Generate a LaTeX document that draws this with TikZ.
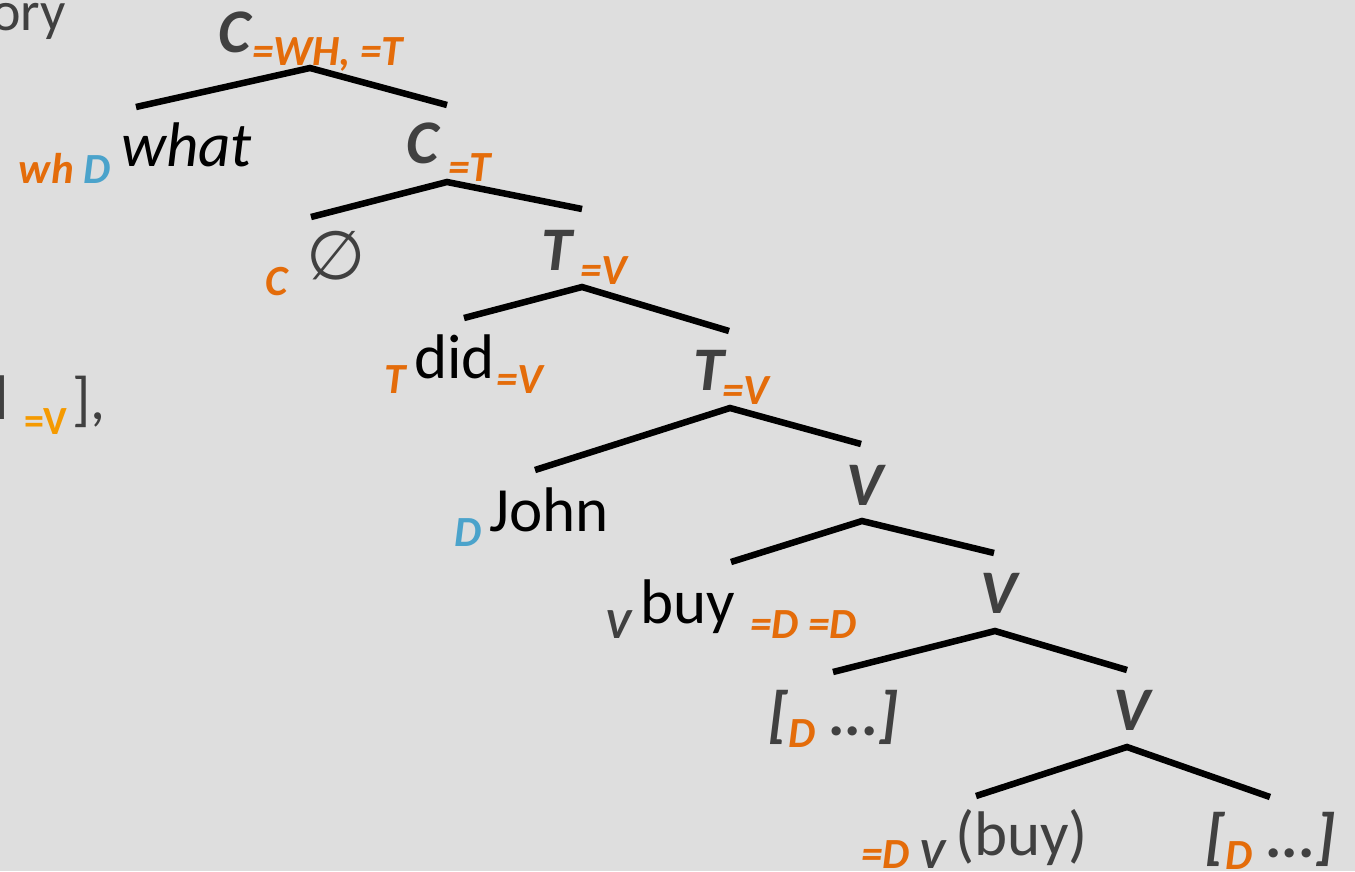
\documentclass[tikz,border=0pt]{standalone}
\usepackage{fontspec}
\setmainfont{Carlito}
\newfontfamily\symfont{DejaVu Sans}
\definecolor{bg}{HTML}{DEDEDE}
\definecolor{dg}{HTML}{404040}
\definecolor{og}{HTML}{E46C0A}
\definecolor{bl}{HTML}{4BA3CB}
\definecolor{lo}{HTML}{F59A00}
\tikzset{
  every node/.style={inner sep=0pt, outer sep=0pt, anchor=base west},
  cat/.style={font=\fontsize{62}{70}\selectfont\bfseries\itshape, text=dg},
  word/.style={font=\fontsize{63}{72}\selectfont, text=black},
  feat/.style={font=\fontsize{43}{50}\selectfont\bfseries\itshape, text=og},
  branch/.style={line width=6.5pt, black},
}
\begin{document}
\begin{tikzpicture}[x=1pt,y=-1pt]
\fill[bg] (0,0) rectangle (1355,871);
\useasboundingbox (0,0) rectangle (1355,871);
% partial slide text at left
\node[word,text=dg,anchor=base east,font=\fontsize{56}{64}\selectfont] (ory) at (66,30) {ory};
\node[word,text=dg,anchor=base east] (ell) at (9,419) {l};
\node[font=\fontsize{40}{48}\selectfont\bfseries, text=lo] (lv) at (24,434) {=V};
\node[word,text=dg,font=\fontsize{60}{70}\selectfont] (rb) at (72,419) {],};
% labels
\node[cat] (c1) at (218,52) {C};
\node[feat] (c1f) at (252,65) {=WH, =T};
\node[word,font=\fontsize{63}{72}\selectfont\itshape] (what) at (121,166) {what};
\node[feat] (whd) at (19,183) {wh \textcolor{bl}{D}};
\node[cat] (c2) at (406,163) {C};
\node[feat] (c2f) at (448,181) {=T};
\node[feat] (cc) at (265,295) {C};
\node[font=\symfont\fontsize{68}{76}\selectfont, text=dg, anchor=center] (null) at (336,256) {∅};
\node[cat] (t1) at (541,270) {T};
\node[feat] (t1f) at (580,284) {=V};
\node[feat] (tt) at (384,393) {T};
\node[word] (did) at (414,378) {did};
\node[feat] (didf) at (496,393) {=V};
\node[cat] (t2) at (693,390) {T};
\node[feat] (t2f) at (722,404) {=V};
\node[feat,text=bl] (dd) at (454,546) {D};
\node[word] (john) at (489,531) {John};
\node[cat] (v1) at (846,505) {V};
\node[feat,text=dg] (vv) at (605,638) {V};
\node[word] (buy) at (640,623) {buy};
\node[feat] (buyf) at (750,638) {=D =D};
\node[cat] (v2) at (980,613) {V};
\node[cat] (dp1) at (768,735) {[\raisebox{-12pt}{\textcolor{og}{\fontsize{43}{50}\selectfont D}} ...]};
\node[cat] (v3) at (1113,730) {V};
\node[feat] (dv) at (861,868) {=D \textcolor{dg}{V}};
\node[word,text=dg] (buy2) at (955,855) {(buy)};
\node[cat] (dp2) at (1205,857) {[\raisebox{-12pt}{\textcolor{og}{\fontsize{43}{50}\selectfont D}} ...]};
% branch points
\coordinate (a1) at (310,68);  \coordinate (l1) at (136,107); \coordinate (r1) at (447,105);
\coordinate (a2) at (447,182); \coordinate (l2) at (311,217); \coordinate (r2) at (582,209);
\coordinate (a3) at (582,287); \coordinate (l3) at (464,318); \coordinate (r3) at (729,331);
\coordinate (a4) at (730,408); \coordinate (l4) at (535,470); \coordinate (r4) at (861,444);
\coordinate (a5) at (862,521); \coordinate (l5) at (731,562); \coordinate (r5) at (994,553);
\coordinate (a6) at (995,631); \coordinate (l6) at (833,672); \coordinate (r6) at (1127,670);
\coordinate (a7) at (1127,747); \coordinate (l7) at (976,796); \coordinate (r7) at (1270,797);
\foreach \i in {1,...,7} { \draw[branch] (l\i) -- (a\i) -- (r\i); }
\end{tikzpicture}
\end{document}
